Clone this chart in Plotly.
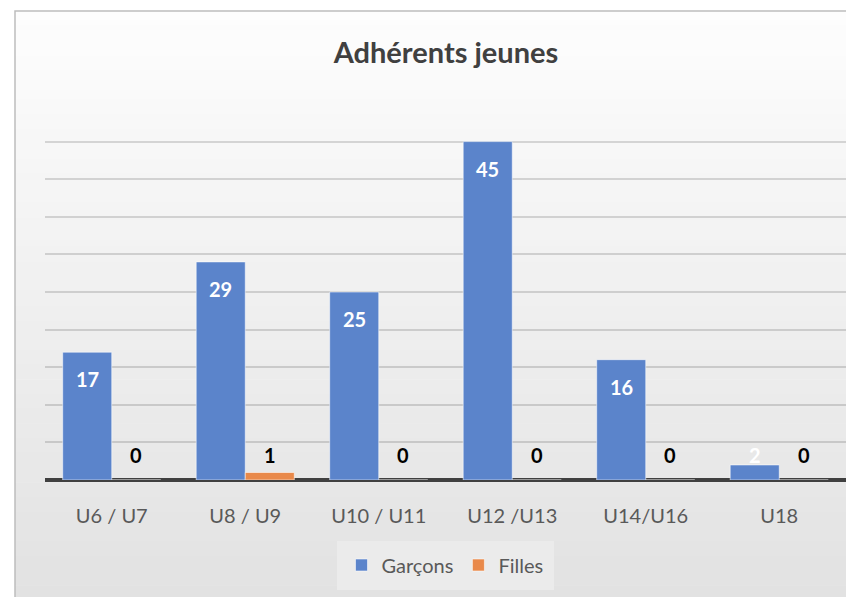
import plotly.graph_objects as go

categories = ["U6 / U7", "U8 / U9", "U10 / U11", "U12 /U13", "U14/U16", "U18"]
garcons = [17, 29, 25, 45, 16, 2]
filles = [0, 1, 0, 0, 0, 0]
series_names = ["Garçons", "Filles"]
title_text = "Adhérents jeunes"

# the page body has an 8px margin; work in reference pixels and convert
OFF = 8
W, H = 854 - OFF, 597 - OFF
PL, PR, PT, PB = 45, 846, 104, 480          # plot area in reference pixels
L, R, T, B = PL - OFF, W - (PR - OFF), PT - OFF, H - (PB - OFF)
PW, PH = PR - PL, PB - PT

def px_x(px):
    return (px - PL) / PW

def px_y(py):
    return (PB - py) / PH

BLUE = "#5b84cb"
ORANGE = "#e9894a"
FONT = "Lato, 'Open Sans', sans-serif"

fig = go.Figure()
fig.add_trace(go.Bar(x=categories, y=garcons, name=series_names[0],
                     marker=dict(color=BLUE, line=dict(color="rgba(255,255,255,0.55)", width=1))))
fig.add_trace(go.Bar(x=categories, y=filles, name=series_names[1],
                     marker=dict(color=ORANGE, line=dict(color="rgba(255,255,255,0.55)", width=1))))

# background gradient bands (chart area box)
shapes = []
n = 40
top, bot = 11, 600
for i in range(n):
    y0 = top + (bot - top) * i / n
    y1 = top + (bot - top) * (i + 1) / n
    t = i / (n - 1)
    c = int(round(253 - (253 - 226) * t))
    shapes.append(dict(type="rect", xref="paper", yref="paper", layer="below",
                       x0=px_x(15), x1=px_x(870), y0=px_y(y1 + 0.5), y1=px_y(y0),
                       fillcolor=f"rgb({c},{c},{c})", line=dict(width=0)))
# border
shapes.append(dict(type="rect", xref="paper", yref="paper", layer="below",
                   x0=px_x(15), x1=px_x(900), y0=px_y(700), y1=px_y(11),
                   fillcolor="rgba(0,0,0,0)", line=dict(color="#bdbdbd", width=1.5)))

annotations = []
off = 0.18375
for i, v in enumerate(garcons):
    annotations.append(dict(x=i - off, y=max(v - 3.6, 3.33), xref="x", yref="y",
                            text=f"<b>{v}</b>", showarrow=False,
                            font=dict(family=FONT, size=20, color="white")))
for i, v in enumerate(filles):
    annotations.append(dict(x=i + off, y=max(v + 2.3, 3.33), xref="x", yref="y",
                            text=f"<b>{v}</b>", showarrow=False,
                            font=dict(family=FONT, size=20, color="black")))

fig.update_layout(
    width=W, height=H,
    margin=dict(l=L, r=R, t=T, b=B, pad=0),
    paper_bgcolor="white",
    plot_bgcolor="rgba(0,0,0,0)",
    barmode="group", bargap=0.265, bargroupgap=0,
    title=dict(text=f"<b>{title_text}</b>", x=px_x(446), xref="paper", xanchor="center",
               y=1 - (53 - OFF) / H, yanchor="middle",
               font=dict(family=FONT, size=29, color="#404040")),
    font=dict(family=FONT, color="#595959"),
    showlegend=True,
    legend=dict(orientation="h", x=px_x(445), xanchor="center", y=px_y(565), yanchor="middle",
                bgcolor="#ebebeb", bordercolor="#ebebeb", borderwidth=5,
                font=dict(family=FONT, size=20, color="#595959"),
                itemwidth=30, traceorder="normal"),
    shapes=shapes,
    annotations=annotations,
)
fig.update_xaxes(type="category", showgrid=False, showline=False, zeroline=False,
                 ticks="", tickfont=dict(family=FONT, size=20, color="#595959"),
                 ticklabelstandoff=22)
fig.update_yaxes(range=[0, 50], dtick=5, showticklabels=False, showgrid=True,
                 gridcolor="rgba(0,0,0,0.14)", gridwidth=1.5,
                 zeroline=True, zerolinecolor="#404040", zerolinewidth=3.5,
                 showline=False, fixedrange=True)

fig.write_html("out.html")
